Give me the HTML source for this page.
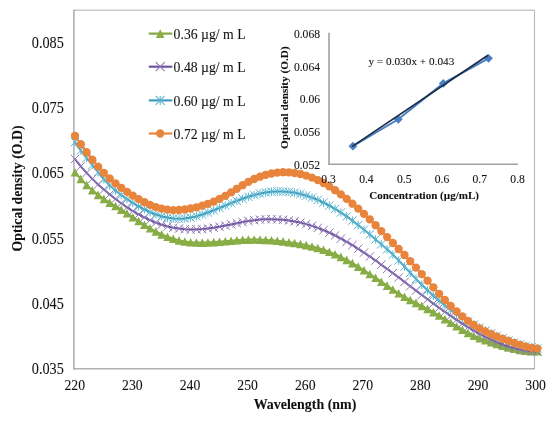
<!DOCTYPE html><html><head><meta charset="utf-8"><title>chart</title><style>
html,body{margin:0;padding:0;background:#fff;width:550px;height:422px;overflow:hidden}
svg{display:block;filter:blur(0.3px)}text{font-family:"Liberation Serif",serif;fill:#111;stroke:#111;stroke-width:0.08px}
</style></head><body>
<svg width="550" height="422" viewBox="0 0 550 422">
<rect width="550" height="422" fill="#fff"/>
<line x1="73.9" y1="10.2" x2="534.5" y2="10.2" stroke="#c9c9c9" stroke-width="1.4"/>
<line x1="534.5" y1="10.2" x2="534.5" y2="368.7" stroke="#b9b9b9" stroke-width="1.1"/>
<line x1="73.9" y1="9.5" x2="73.9" y2="369.5" stroke="#b0b0b0" stroke-width="1.6"/>
<line x1="73" y1="368.7" x2="535" y2="368.7" stroke="#b0b0b0" stroke-width="1.6"/>
<text x="63.8" y="47.7" font-size="15.8" text-anchor="end" textLength="32" lengthAdjust="spacingAndGlyphs">0.085</text>
<text x="63.8" y="113.0" font-size="15.8" text-anchor="end" textLength="32" lengthAdjust="spacingAndGlyphs">0.075</text>
<text x="63.8" y="178.3" font-size="15.8" text-anchor="end" textLength="32" lengthAdjust="spacingAndGlyphs">0.065</text>
<text x="63.8" y="243.6" font-size="15.8" text-anchor="end" textLength="32" lengthAdjust="spacingAndGlyphs">0.055</text>
<text x="63.8" y="308.9" font-size="15.8" text-anchor="end" textLength="32" lengthAdjust="spacingAndGlyphs">0.045</text>
<text x="63.8" y="374.2" font-size="15.8" text-anchor="end" textLength="32" lengthAdjust="spacingAndGlyphs">0.035</text>
<text x="74.8" y="389.6" font-size="15.6" text-anchor="middle" textLength="20.6" lengthAdjust="spacingAndGlyphs">220</text>
<text x="132.4" y="389.6" font-size="15.6" text-anchor="middle" textLength="20.6" lengthAdjust="spacingAndGlyphs">230</text>
<text x="190.0" y="389.6" font-size="15.6" text-anchor="middle" textLength="20.6" lengthAdjust="spacingAndGlyphs">240</text>
<text x="247.6" y="389.6" font-size="15.6" text-anchor="middle" textLength="20.6" lengthAdjust="spacingAndGlyphs">250</text>
<text x="305.2" y="389.6" font-size="15.6" text-anchor="middle" textLength="20.6" lengthAdjust="spacingAndGlyphs">260</text>
<text x="362.8" y="389.6" font-size="15.6" text-anchor="middle" textLength="20.6" lengthAdjust="spacingAndGlyphs">270</text>
<text x="420.4" y="389.6" font-size="15.6" text-anchor="middle" textLength="20.6" lengthAdjust="spacingAndGlyphs">280</text>
<text x="478.0" y="389.6" font-size="15.6" text-anchor="middle" textLength="20.6" lengthAdjust="spacingAndGlyphs">290</text>
<text x="535.6" y="389.6" font-size="15.6" text-anchor="middle" textLength="20.6" lengthAdjust="spacingAndGlyphs">300</text>
<text transform="translate(22,251.5) rotate(-90)" font-size="13.8" font-weight="bold" textLength="126" lengthAdjust="spacingAndGlyphs">Optical density (O.D)</text>
<svg x="0" y="0" width="550" height="410.6" overflow="hidden"><text x="253.7" y="408.9" font-size="13.8" font-weight="bold" textLength="102.6" lengthAdjust="spacingAndGlyphs">Wavelength (nm)</text></svg>
<line x1="329" y1="32.8" x2="329" y2="164.3" stroke="#9a9a9a" stroke-width="1.5"/>
<line x1="328.2" y1="164.3" x2="518" y2="164.3" stroke="#a2a2a2" stroke-width="1.5"/>
<polyline points="75.0,172.3 80.8,178.9 86.6,184.9 92.3,190.2 98.1,194.9 103.9,198.9 109.7,202.6 115.5,206.0 121.2,209.6 127.0,213.3 132.8,217.2 138.6,221.0 144.4,224.8 150.1,228.3 155.9,231.5 161.7,234.4 167.5,236.8 173.3,238.8 179.0,240.4 184.8,241.5 190.6,242.2 196.4,242.5 202.2,242.6 207.9,242.5 213.7,242.1 219.5,241.7 225.3,241.2 231.1,240.7 236.8,240.2 242.6,239.8 248.4,239.6 254.2,239.5 260.0,239.6 265.7,239.9 271.5,240.3 277.3,240.8 283.1,241.4 288.9,242.2 294.6,243.0 300.4,244.0 306.2,245.1 312.0,246.5 317.8,248.0 323.5,249.8 329.3,251.8 335.1,254.2 340.9,256.9 346.7,259.9 352.4,263.1 358.2,266.6 364.0,270.3 369.8,274.0 375.6,277.8 381.3,281.7 387.1,285.6 392.9,289.5 398.7,293.3 404.5,296.8 410.2,300.0 416.0,302.9 421.8,305.9 427.6,308.9 433.4,312.2 439.1,315.5 444.9,319.1 450.7,322.7 456.5,326.2 462.3,329.7 468.0,332.9 473.8,335.7 479.6,338.1 485.4,340.2 491.2,342.2 496.9,344.0 502.7,345.8 508.5,347.4 514.3,348.8 520.1,350.0 525.8,350.7 531.6,351.1 537.4,351.1" fill="none" stroke="#82A943" stroke-width="2" stroke-linejoin="round"/>
<path d="M75.0,168.0L79.3,176.6L70.7,176.6ZM80.8,174.6L85.1,183.2L76.5,183.2ZM86.6,180.6L90.9,189.2L82.3,189.2ZM92.3,185.9L96.6,194.5L88.0,194.5ZM98.1,190.6L102.4,199.2L93.8,199.2ZM103.9,194.6L108.2,203.2L99.6,203.2ZM109.7,198.3L114.0,206.9L105.4,206.9ZM115.5,201.7L119.8,210.3L111.2,210.3ZM121.2,205.3L125.5,213.9L116.9,213.9ZM127.0,209.0L131.3,217.6L122.7,217.6ZM132.8,212.9L137.1,221.5L128.5,221.5ZM138.6,216.7L142.9,225.3L134.3,225.3ZM144.4,220.5L148.7,229.1L140.1,229.1ZM150.1,224.0L154.4,232.6L145.8,232.6ZM155.9,227.2L160.2,235.8L151.6,235.8ZM161.7,230.1L166.0,238.7L157.4,238.7ZM167.5,232.5L171.8,241.1L163.2,241.1ZM173.3,234.5L177.6,243.1L169.0,243.1ZM179.0,236.1L183.3,244.7L174.7,244.7ZM184.8,237.2L189.1,245.8L180.5,245.8ZM190.6,237.9L194.9,246.5L186.3,246.5ZM196.4,238.2L200.7,246.8L192.1,246.8ZM202.2,238.3L206.5,246.9L197.9,246.9ZM207.9,238.2L212.2,246.8L203.6,246.8ZM213.7,237.8L218.0,246.4L209.4,246.4ZM219.5,237.4L223.8,246.0L215.2,246.0ZM225.3,236.9L229.6,245.5L221.0,245.5ZM231.1,236.4L235.4,245.0L226.8,245.0ZM236.8,235.9L241.1,244.5L232.5,244.5ZM242.6,235.5L246.9,244.1L238.3,244.1ZM248.4,235.3L252.7,243.9L244.1,243.9ZM254.2,235.2L258.5,243.8L249.9,243.8ZM260.0,235.3L264.3,243.9L255.7,243.9ZM265.7,235.6L270.0,244.2L261.4,244.2ZM271.5,236.0L275.8,244.6L267.2,244.6ZM277.3,236.5L281.6,245.1L273.0,245.1ZM283.1,237.1L287.4,245.7L278.8,245.7ZM288.9,237.9L293.2,246.5L284.6,246.5ZM294.6,238.7L298.9,247.3L290.3,247.3ZM300.4,239.7L304.7,248.3L296.1,248.3ZM306.2,240.8L310.5,249.4L301.9,249.4ZM312.0,242.2L316.3,250.8L307.7,250.8ZM317.8,243.7L322.1,252.3L313.5,252.3ZM323.5,245.5L327.8,254.1L319.2,254.1ZM329.3,247.5L333.6,256.1L325.0,256.1ZM335.1,249.9L339.4,258.5L330.8,258.5ZM340.9,252.6L345.2,261.2L336.6,261.2ZM346.7,255.6L351.0,264.2L342.4,264.2ZM352.4,258.8L356.7,267.4L348.1,267.4ZM358.2,262.3L362.5,270.9L353.9,270.9ZM364.0,266.0L368.3,274.6L359.7,274.6ZM369.8,269.7L374.1,278.3L365.5,278.3ZM375.6,273.5L379.9,282.1L371.3,282.1ZM381.3,277.4L385.6,286.0L377.0,286.0ZM387.1,281.3L391.4,289.9L382.8,289.9ZM392.9,285.2L397.2,293.8L388.6,293.8ZM398.7,289.0L403.0,297.6L394.4,297.6ZM404.5,292.5L408.8,301.1L400.2,301.1ZM410.2,295.7L414.5,304.3L405.9,304.3ZM416.0,298.6L420.3,307.2L411.7,307.2ZM421.8,301.6L426.1,310.2L417.5,310.2ZM427.6,304.6L431.9,313.2L423.3,313.2ZM433.4,307.9L437.7,316.5L429.1,316.5ZM439.1,311.2L443.4,319.8L434.8,319.8ZM444.9,314.8L449.2,323.4L440.6,323.4ZM450.7,318.4L455.0,327.0L446.4,327.0ZM456.5,321.9L460.8,330.5L452.2,330.5ZM462.3,325.4L466.6,334.0L458.0,334.0ZM468.0,328.6L472.3,337.2L463.7,337.2ZM473.8,331.4L478.1,340.0L469.5,340.0ZM479.6,333.8L483.9,342.4L475.3,342.4ZM485.4,335.9L489.7,344.5L481.1,344.5ZM491.2,337.9L495.5,346.5L486.9,346.5ZM496.9,339.7L501.2,348.3L492.6,348.3ZM502.7,341.5L507.0,350.1L498.4,350.1ZM508.5,343.1L512.8,351.7L504.2,351.7ZM514.3,344.5L518.6,353.1L510.0,353.1ZM520.1,345.7L524.4,354.3L515.8,354.3ZM525.8,346.4L530.1,355.0L521.5,355.0ZM531.6,346.8L535.9,355.4L527.3,355.4ZM537.4,346.8L541.7,355.4L533.1,355.4Z" fill="#87AD44"/>
<polyline points="75.0,159.0 80.8,166.3 86.6,172.9 92.3,178.9 98.1,184.5 103.9,189.6 109.7,194.4 115.5,199.0 121.2,203.3 127.0,207.3 132.8,211.0 138.6,214.4 144.4,217.4 150.1,220.2 155.9,222.6 161.7,224.7 167.5,226.4 173.3,227.7 179.0,228.6 184.8,229.2 190.6,229.5 196.4,229.4 202.2,229.1 207.9,228.5 213.7,227.7 219.5,226.7 225.3,225.6 231.1,224.4 236.8,223.2 242.6,222.0 248.4,221.0 254.2,220.2 260.0,219.6 265.7,219.3 271.5,219.2 277.3,219.4 283.1,219.8 288.9,220.5 294.6,221.4 300.4,222.6 306.2,224.1 312.0,225.9 317.8,227.9 323.5,230.2 329.3,232.7 335.1,235.5 340.9,238.6 346.7,241.8 352.4,245.2 358.2,248.8 364.0,252.6 369.8,256.5 375.6,260.5 381.3,264.7 387.1,268.9 392.9,273.1 398.7,277.5 404.5,281.9 410.2,286.2 416.0,290.6 421.8,295.0 427.6,299.3 433.4,303.6 439.1,307.8 444.9,311.9 450.7,315.9 456.5,319.8 462.3,323.6 468.0,327.2 473.8,330.6 479.6,333.8 485.4,336.8 491.2,339.6 496.9,342.2 502.7,344.4 508.5,346.4 514.3,348.1 520.1,349.5 525.8,350.6 531.6,351.3 537.4,351.6" fill="none" stroke="#6F53A0" stroke-width="2" stroke-linejoin="round"/>
<path d="M70.8,154.8L79.2,163.2M70.8,163.2L79.2,154.8M76.6,162.1L85.0,170.5M76.6,170.5L85.0,162.1M82.4,168.7L90.8,177.1M82.4,177.1L90.8,168.7M88.1,174.7L96.5,183.1M88.1,183.1L96.5,174.7M93.9,180.3L102.3,188.7M93.9,188.7L102.3,180.3M99.7,185.4L108.1,193.8M99.7,193.8L108.1,185.4M105.5,190.2L113.9,198.6M105.5,198.6L113.9,190.2M111.3,194.8L119.7,203.2M111.3,203.2L119.7,194.8M117.0,199.1L125.4,207.5M117.0,207.5L125.4,199.1M122.8,203.1L131.2,211.5M122.8,211.5L131.2,203.1M128.6,206.8L137.0,215.2M128.6,215.2L137.0,206.8M134.4,210.2L142.8,218.6M134.4,218.6L142.8,210.2M140.2,213.2L148.6,221.6M140.2,221.6L148.6,213.2M145.9,216.0L154.3,224.4M145.9,224.4L154.3,216.0M151.7,218.4L160.1,226.8M151.7,226.8L160.1,218.4M157.5,220.5L165.9,228.9M157.5,228.9L165.9,220.5M163.3,222.2L171.7,230.6M163.3,230.6L171.7,222.2M169.1,223.5L177.5,231.9M169.1,231.9L177.5,223.5M174.8,224.4L183.2,232.8M174.8,232.8L183.2,224.4M180.6,225.0L189.0,233.4M180.6,233.4L189.0,225.0M186.4,225.3L194.8,233.7M186.4,233.7L194.8,225.3M192.2,225.2L200.6,233.6M192.2,233.6L200.6,225.2M198.0,224.9L206.4,233.3M198.0,233.3L206.4,224.9M203.7,224.3L212.1,232.7M203.7,232.7L212.1,224.3M209.5,223.5L217.9,231.9M209.5,231.9L217.9,223.5M215.3,222.5L223.7,230.9M215.3,230.9L223.7,222.5M221.1,221.4L229.5,229.8M221.1,229.8L229.5,221.4M226.9,220.2L235.3,228.6M226.9,228.6L235.3,220.2M232.6,219.0L241.0,227.4M232.6,227.4L241.0,219.0M238.4,217.8L246.8,226.2M238.4,226.2L246.8,217.8M244.2,216.8L252.6,225.2M244.2,225.2L252.6,216.8M250.0,216.0L258.4,224.4M250.0,224.4L258.4,216.0M255.8,215.4L264.2,223.8M255.8,223.8L264.2,215.4M261.5,215.1L269.9,223.5M261.5,223.5L269.9,215.1M267.3,215.0L275.7,223.4M267.3,223.4L275.7,215.0M273.1,215.2L281.5,223.6M273.1,223.6L281.5,215.2M278.9,215.6L287.3,224.0M278.9,224.0L287.3,215.6M284.7,216.3L293.1,224.7M284.7,224.7L293.1,216.3M290.4,217.2L298.8,225.6M290.4,225.6L298.8,217.2M296.2,218.4L304.6,226.8M296.2,226.8L304.6,218.4M302.0,219.9L310.4,228.3M302.0,228.3L310.4,219.9M307.8,221.7L316.2,230.1M307.8,230.1L316.2,221.7M313.6,223.7L322.0,232.1M313.6,232.1L322.0,223.7M319.3,226.0L327.7,234.4M319.3,234.4L327.7,226.0M325.1,228.5L333.5,236.9M325.1,236.9L333.5,228.5M330.9,231.3L339.3,239.7M330.9,239.7L339.3,231.3M336.7,234.4L345.1,242.8M336.7,242.8L345.1,234.4M342.5,237.6L350.9,246.0M342.5,246.0L350.9,237.6M348.2,241.0L356.6,249.4M348.2,249.4L356.6,241.0M354.0,244.6L362.4,253.0M354.0,253.0L362.4,244.6M359.8,248.4L368.2,256.8M359.8,256.8L368.2,248.4M365.6,252.3L374.0,260.7M365.6,260.7L374.0,252.3M371.4,256.3L379.8,264.7M371.4,264.7L379.8,256.3M377.1,260.5L385.5,268.9M377.1,268.9L385.5,260.5M382.9,264.7L391.3,273.1M382.9,273.1L391.3,264.7M388.7,268.9L397.1,277.3M388.7,277.3L397.1,268.9M394.5,273.3L402.9,281.7M394.5,281.7L402.9,273.3M400.3,277.7L408.7,286.1M400.3,286.1L408.7,277.7M406.0,282.0L414.4,290.4M406.0,290.4L414.4,282.0M411.8,286.4L420.2,294.8M411.8,294.8L420.2,286.4M417.6,290.8L426.0,299.2M417.6,299.2L426.0,290.8M423.4,295.1L431.8,303.5M423.4,303.5L431.8,295.1M429.2,299.4L437.6,307.8M429.2,307.8L437.6,299.4M434.9,303.6L443.3,312.0M434.9,312.0L443.3,303.6M440.7,307.7L449.1,316.1M440.7,316.1L449.1,307.7M446.5,311.7L454.9,320.1M446.5,320.1L454.9,311.7M452.3,315.6L460.7,324.0M452.3,324.0L460.7,315.6M458.1,319.4L466.5,327.8M458.1,327.8L466.5,319.4M463.8,323.0L472.2,331.4M463.8,331.4L472.2,323.0M469.6,326.4L478.0,334.8M469.6,334.8L478.0,326.4M475.4,329.6L483.8,338.0M475.4,338.0L483.8,329.6M481.2,332.6L489.6,341.0M481.2,341.0L489.6,332.6M487.0,335.4L495.4,343.8M487.0,343.8L495.4,335.4M492.7,338.0L501.1,346.4M492.7,346.4L501.1,338.0M498.5,340.2L506.9,348.6M498.5,348.6L506.9,340.2M504.3,342.2L512.7,350.6M504.3,350.6L512.7,342.2M510.1,343.9L518.5,352.3M510.1,352.3L518.5,343.9M515.9,345.3L524.3,353.7M515.9,353.7L524.3,345.3M521.6,346.4L530.0,354.8M521.6,354.8L530.0,346.4M527.4,347.1L535.8,355.5M527.4,355.5L535.8,347.1M533.2,347.4L541.6,355.8M533.2,355.8L541.6,347.4" stroke="#8C79B4" stroke-width="1" fill="none"/>
<polyline points="75.0,142.0 80.8,150.6 86.6,158.0 92.3,165.0 98.1,172.2 103.9,179.4 109.7,185.6 115.5,190.6 121.2,195.0 127.0,199.1 132.8,202.9 138.6,206.4 144.4,209.5 150.1,212.2 155.9,214.5 161.7,216.3 167.5,217.7 173.3,218.5 179.0,218.7 184.8,218.4 190.6,217.6 196.4,216.2 202.2,214.5 207.9,212.5 213.7,210.3 219.5,208.0 225.3,205.6 231.1,203.2 236.8,200.9 242.6,198.7 248.4,196.8 254.2,195.0 260.0,193.6 265.7,192.4 271.5,191.7 277.3,191.4 283.1,191.5 288.9,191.9 294.6,192.8 300.4,194.0 306.2,195.6 312.0,197.6 317.8,199.9 323.5,202.6 329.3,205.6 335.1,208.9 340.9,212.5 346.7,216.4 352.4,220.6 358.2,225.1 364.0,229.7 369.8,234.5 375.6,239.4 381.3,244.3 387.1,249.3 392.9,254.6 398.7,260.4 404.5,266.6 410.2,272.8 416.0,278.9 421.8,284.7 427.6,290.3 433.4,295.7 439.1,300.8 444.9,305.6 450.7,310.0 456.5,314.1 462.3,317.9 468.0,321.4 473.8,324.6 479.6,327.7 485.4,330.6 491.2,333.3 496.9,335.8 502.7,338.2 508.5,340.5 514.3,342.6 520.1,344.4 525.8,346.0 531.6,347.2 537.4,348.2" fill="none" stroke="#3E9BBA" stroke-width="2" stroke-linejoin="round"/>
<path d="M70.8,137.8L79.2,146.2M70.8,146.2L79.2,137.8M75.0,137.8L75.0,146.2M76.6,146.4L85.0,154.8M76.6,154.8L85.0,146.4M80.8,146.4L80.8,154.8M82.4,153.8L90.8,162.2M82.4,162.2L90.8,153.8M86.6,153.8L86.6,162.2M88.1,160.8L96.5,169.2M88.1,169.2L96.5,160.8M92.3,160.8L92.3,169.2M93.9,168.0L102.3,176.4M93.9,176.4L102.3,168.0M98.1,168.0L98.1,176.4M99.7,175.2L108.1,183.6M99.7,183.6L108.1,175.2M103.9,175.2L103.9,183.6M105.5,181.4L113.9,189.8M105.5,189.8L113.9,181.4M109.7,181.4L109.7,189.8M111.3,186.4L119.7,194.8M111.3,194.8L119.7,186.4M115.5,186.4L115.5,194.8M117.0,190.8L125.4,199.2M117.0,199.2L125.4,190.8M121.2,190.8L121.2,199.2M122.8,194.9L131.2,203.3M122.8,203.3L131.2,194.9M127.0,194.9L127.0,203.3M128.6,198.7L137.0,207.1M128.6,207.1L137.0,198.7M132.8,198.7L132.8,207.1M134.4,202.2L142.8,210.6M134.4,210.6L142.8,202.2M138.6,202.2L138.6,210.6M140.2,205.3L148.6,213.7M140.2,213.7L148.6,205.3M144.4,205.3L144.4,213.7M145.9,208.0L154.3,216.4M145.9,216.4L154.3,208.0M150.1,208.0L150.1,216.4M151.7,210.3L160.1,218.7M151.7,218.7L160.1,210.3M155.9,210.3L155.9,218.7M157.5,212.1L165.9,220.5M157.5,220.5L165.9,212.1M161.7,212.1L161.7,220.5M163.3,213.5L171.7,221.9M163.3,221.9L171.7,213.5M167.5,213.5L167.5,221.9M169.1,214.3L177.5,222.7M169.1,222.7L177.5,214.3M173.3,214.3L173.3,222.7M174.8,214.5L183.2,222.9M174.8,222.9L183.2,214.5M179.0,214.5L179.0,222.9M180.6,214.2L189.0,222.6M180.6,222.6L189.0,214.2M184.8,214.2L184.8,222.6M186.4,213.4L194.8,221.8M186.4,221.8L194.8,213.4M190.6,213.4L190.6,221.8M192.2,212.0L200.6,220.4M192.2,220.4L200.6,212.0M196.4,212.0L196.4,220.4M198.0,210.3L206.4,218.7M198.0,218.7L206.4,210.3M202.2,210.3L202.2,218.7M203.7,208.3L212.1,216.7M203.7,216.7L212.1,208.3M207.9,208.3L207.9,216.7M209.5,206.1L217.9,214.5M209.5,214.5L217.9,206.1M213.7,206.1L213.7,214.5M215.3,203.8L223.7,212.2M215.3,212.2L223.7,203.8M219.5,203.8L219.5,212.2M221.1,201.4L229.5,209.8M221.1,209.8L229.5,201.4M225.3,201.4L225.3,209.8M226.9,199.0L235.3,207.4M226.9,207.4L235.3,199.0M231.1,199.0L231.1,207.4M232.6,196.7L241.0,205.1M232.6,205.1L241.0,196.7M236.8,196.7L236.8,205.1M238.4,194.5L246.8,202.9M238.4,202.9L246.8,194.5M242.6,194.5L242.6,202.9M244.2,192.6L252.6,201.0M244.2,201.0L252.6,192.6M248.4,192.6L248.4,201.0M250.0,190.8L258.4,199.2M250.0,199.2L258.4,190.8M254.2,190.8L254.2,199.2M255.8,189.4L264.2,197.8M255.8,197.8L264.2,189.4M260.0,189.4L260.0,197.8M261.5,188.2L269.9,196.6M261.5,196.6L269.9,188.2M265.7,188.2L265.7,196.6M267.3,187.5L275.7,195.9M267.3,195.9L275.7,187.5M271.5,187.5L271.5,195.9M273.1,187.2L281.5,195.6M273.1,195.6L281.5,187.2M277.3,187.2L277.3,195.6M278.9,187.3L287.3,195.7M278.9,195.7L287.3,187.3M283.1,187.3L283.1,195.7M284.7,187.7L293.1,196.1M284.7,196.1L293.1,187.7M288.9,187.7L288.9,196.1M290.4,188.6L298.8,197.0M290.4,197.0L298.8,188.6M294.6,188.6L294.6,197.0M296.2,189.8L304.6,198.2M296.2,198.2L304.6,189.8M300.4,189.8L300.4,198.2M302.0,191.4L310.4,199.8M302.0,199.8L310.4,191.4M306.2,191.4L306.2,199.8M307.8,193.4L316.2,201.8M307.8,201.8L316.2,193.4M312.0,193.4L312.0,201.8M313.6,195.7L322.0,204.1M313.6,204.1L322.0,195.7M317.8,195.7L317.8,204.1M319.3,198.4L327.7,206.8M319.3,206.8L327.7,198.4M323.5,198.4L323.5,206.8M325.1,201.4L333.5,209.8M325.1,209.8L333.5,201.4M329.3,201.4L329.3,209.8M330.9,204.7L339.3,213.1M330.9,213.1L339.3,204.7M335.1,204.7L335.1,213.1M336.7,208.3L345.1,216.7M336.7,216.7L345.1,208.3M340.9,208.3L340.9,216.7M342.5,212.2L350.9,220.6M342.5,220.6L350.9,212.2M346.7,212.2L346.7,220.6M348.2,216.4L356.6,224.8M348.2,224.8L356.6,216.4M352.4,216.4L352.4,224.8M354.0,220.9L362.4,229.3M354.0,229.3L362.4,220.9M358.2,220.9L358.2,229.3M359.8,225.5L368.2,233.9M359.8,233.9L368.2,225.5M364.0,225.5L364.0,233.9M365.6,230.3L374.0,238.7M365.6,238.7L374.0,230.3M369.8,230.3L369.8,238.7M371.4,235.2L379.8,243.6M371.4,243.6L379.8,235.2M375.6,235.2L375.6,243.6M377.1,240.1L385.5,248.5M377.1,248.5L385.5,240.1M381.3,240.1L381.3,248.5M382.9,245.1L391.3,253.5M382.9,253.5L391.3,245.1M387.1,245.1L387.1,253.5M388.7,250.4L397.1,258.8M388.7,258.8L397.1,250.4M392.9,250.4L392.9,258.8M394.5,256.2L402.9,264.6M394.5,264.6L402.9,256.2M398.7,256.2L398.7,264.6M400.3,262.4L408.7,270.8M400.3,270.8L408.7,262.4M404.5,262.4L404.5,270.8M406.0,268.6L414.4,277.0M406.0,277.0L414.4,268.6M410.2,268.6L410.2,277.0M411.8,274.7L420.2,283.1M411.8,283.1L420.2,274.7M416.0,274.7L416.0,283.1M417.6,280.5L426.0,288.9M417.6,288.9L426.0,280.5M421.8,280.5L421.8,288.9M423.4,286.1L431.8,294.5M423.4,294.5L431.8,286.1M427.6,286.1L427.6,294.5M429.2,291.5L437.6,299.9M429.2,299.9L437.6,291.5M433.4,291.5L433.4,299.9M434.9,296.6L443.3,305.0M434.9,305.0L443.3,296.6M439.1,296.6L439.1,305.0M440.7,301.4L449.1,309.8M440.7,309.8L449.1,301.4M444.9,301.4L444.9,309.8M446.5,305.8L454.9,314.2M446.5,314.2L454.9,305.8M450.7,305.8L450.7,314.2M452.3,309.9L460.7,318.3M452.3,318.3L460.7,309.9M456.5,309.9L456.5,318.3M458.1,313.7L466.5,322.1M458.1,322.1L466.5,313.7M462.3,313.7L462.3,322.1M463.8,317.2L472.2,325.6M463.8,325.6L472.2,317.2M468.0,317.2L468.0,325.6M469.6,320.4L478.0,328.8M469.6,328.8L478.0,320.4M473.8,320.4L473.8,328.8M475.4,323.5L483.8,331.9M475.4,331.9L483.8,323.5M479.6,323.5L479.6,331.9M481.2,326.4L489.6,334.8M481.2,334.8L489.6,326.4M485.4,326.4L485.4,334.8M487.0,329.1L495.4,337.5M487.0,337.5L495.4,329.1M491.2,329.1L491.2,337.5M492.7,331.6L501.1,340.0M492.7,340.0L501.1,331.6M496.9,331.6L496.9,340.0M498.5,334.0L506.9,342.4M498.5,342.4L506.9,334.0M502.7,334.0L502.7,342.4M504.3,336.3L512.7,344.7M504.3,344.7L512.7,336.3M508.5,336.3L508.5,344.7M510.1,338.4L518.5,346.8M510.1,346.8L518.5,338.4M514.3,338.4L514.3,346.8M515.9,340.2L524.3,348.6M515.9,348.6L524.3,340.2M520.1,340.2L520.1,348.6M521.6,341.8L530.0,350.2M521.6,350.2L530.0,341.8M525.8,341.8L525.8,350.2M527.4,343.0L535.8,351.4M527.4,351.4L535.8,343.0M531.6,343.0L531.6,351.4M533.2,344.0L541.6,352.4M533.2,352.4L541.6,344.0M537.4,344.0L537.4,352.4" stroke="#5AB6D0" stroke-width="1" fill="none"/>
<polyline points="75.0,135.8 80.8,144.2 86.6,152.2 92.3,159.7 98.1,166.6 103.9,172.9 109.7,178.5 115.5,183.4 121.2,187.8 127.0,191.8 132.8,195.6 138.6,199.1 144.4,202.2 150.1,204.9 155.9,207.1 161.7,208.6 167.5,209.6 173.3,210.1 179.0,210.0 184.8,209.5 190.6,208.5 196.4,207.3 202.2,205.7 207.9,203.8 213.7,201.6 219.5,198.9 225.3,195.9 231.1,192.4 236.8,188.8 242.6,185.2 248.4,181.9 254.2,179.0 260.0,176.7 265.7,174.8 271.5,173.5 277.3,172.6 283.1,172.2 288.9,172.4 294.6,173.0 300.4,174.0 306.2,175.6 312.0,177.6 317.8,180.1 323.5,183.0 329.3,186.4 335.1,190.2 340.9,194.4 346.7,198.9 352.4,203.7 358.2,208.6 364.0,213.9 369.8,219.4 375.6,225.2 381.3,231.1 387.1,237.1 392.9,243.0 398.7,249.0 404.5,255.0 410.2,261.2 416.0,267.6 421.8,274.1 427.6,280.7 433.4,287.3 439.1,293.8 444.9,300.0 450.7,305.9 456.5,311.3 462.3,316.4 468.0,320.9 473.8,324.9 479.6,328.4 485.4,331.5 491.2,334.2 496.9,336.6 502.7,338.8 508.5,340.9 514.3,342.9 520.1,344.8 525.8,346.6 531.6,347.9 537.4,348.6" fill="none" stroke="#E8843C" stroke-width="2" stroke-linejoin="round"/>
<circle cx="75.0" cy="135.8" r="4.15" fill="#E8843C"/>
<circle cx="80.8" cy="144.2" r="4.15" fill="#E8843C"/>
<circle cx="86.6" cy="152.2" r="4.15" fill="#E8843C"/>
<circle cx="92.3" cy="159.7" r="4.15" fill="#E8843C"/>
<circle cx="98.1" cy="166.6" r="4.15" fill="#E8843C"/>
<circle cx="103.9" cy="172.9" r="4.15" fill="#E8843C"/>
<circle cx="109.7" cy="178.5" r="4.15" fill="#E8843C"/>
<circle cx="115.5" cy="183.4" r="4.15" fill="#E8843C"/>
<circle cx="121.2" cy="187.8" r="4.15" fill="#E8843C"/>
<circle cx="127.0" cy="191.8" r="4.15" fill="#E8843C"/>
<circle cx="132.8" cy="195.6" r="4.15" fill="#E8843C"/>
<circle cx="138.6" cy="199.1" r="4.15" fill="#E8843C"/>
<circle cx="144.4" cy="202.2" r="4.15" fill="#E8843C"/>
<circle cx="150.1" cy="204.9" r="4.15" fill="#E8843C"/>
<circle cx="155.9" cy="207.1" r="4.15" fill="#E8843C"/>
<circle cx="161.7" cy="208.6" r="4.15" fill="#E8843C"/>
<circle cx="167.5" cy="209.6" r="4.15" fill="#E8843C"/>
<circle cx="173.3" cy="210.1" r="4.15" fill="#E8843C"/>
<circle cx="179.0" cy="210.0" r="4.15" fill="#E8843C"/>
<circle cx="184.8" cy="209.5" r="4.15" fill="#E8843C"/>
<circle cx="190.6" cy="208.5" r="4.15" fill="#E8843C"/>
<circle cx="196.4" cy="207.3" r="4.15" fill="#E8843C"/>
<circle cx="202.2" cy="205.7" r="4.15" fill="#E8843C"/>
<circle cx="207.9" cy="203.8" r="4.15" fill="#E8843C"/>
<circle cx="213.7" cy="201.6" r="4.15" fill="#E8843C"/>
<circle cx="219.5" cy="198.9" r="4.15" fill="#E8843C"/>
<circle cx="225.3" cy="195.9" r="4.15" fill="#E8843C"/>
<circle cx="231.1" cy="192.4" r="4.15" fill="#E8843C"/>
<circle cx="236.8" cy="188.8" r="4.15" fill="#E8843C"/>
<circle cx="242.6" cy="185.2" r="4.15" fill="#E8843C"/>
<circle cx="248.4" cy="181.9" r="4.15" fill="#E8843C"/>
<circle cx="254.2" cy="179.0" r="4.15" fill="#E8843C"/>
<circle cx="260.0" cy="176.7" r="4.15" fill="#E8843C"/>
<circle cx="265.7" cy="174.8" r="4.15" fill="#E8843C"/>
<circle cx="271.5" cy="173.5" r="4.15" fill="#E8843C"/>
<circle cx="277.3" cy="172.6" r="4.15" fill="#E8843C"/>
<circle cx="283.1" cy="172.2" r="4.15" fill="#E8843C"/>
<circle cx="288.9" cy="172.4" r="4.15" fill="#E8843C"/>
<circle cx="294.6" cy="173.0" r="4.15" fill="#E8843C"/>
<circle cx="300.4" cy="174.0" r="4.15" fill="#E8843C"/>
<circle cx="306.2" cy="175.6" r="4.15" fill="#E8843C"/>
<circle cx="312.0" cy="177.6" r="4.15" fill="#E8843C"/>
<circle cx="317.8" cy="180.1" r="4.15" fill="#E8843C"/>
<circle cx="323.5" cy="183.0" r="4.15" fill="#E8843C"/>
<circle cx="329.3" cy="186.4" r="4.15" fill="#E8843C"/>
<circle cx="335.1" cy="190.2" r="4.15" fill="#E8843C"/>
<circle cx="340.9" cy="194.4" r="4.15" fill="#E8843C"/>
<circle cx="346.7" cy="198.9" r="4.15" fill="#E8843C"/>
<circle cx="352.4" cy="203.7" r="4.15" fill="#E8843C"/>
<circle cx="358.2" cy="208.6" r="4.15" fill="#E8843C"/>
<circle cx="364.0" cy="213.9" r="4.15" fill="#E8843C"/>
<circle cx="369.8" cy="219.4" r="4.15" fill="#E8843C"/>
<circle cx="375.6" cy="225.2" r="4.15" fill="#E8843C"/>
<circle cx="381.3" cy="231.1" r="4.15" fill="#E8843C"/>
<circle cx="387.1" cy="237.1" r="4.15" fill="#E8843C"/>
<circle cx="392.9" cy="243.0" r="4.15" fill="#E8843C"/>
<circle cx="398.7" cy="249.0" r="4.15" fill="#E8843C"/>
<circle cx="404.5" cy="255.0" r="4.15" fill="#E8843C"/>
<circle cx="410.2" cy="261.2" r="4.15" fill="#E8843C"/>
<circle cx="416.0" cy="267.6" r="4.15" fill="#E8843C"/>
<circle cx="421.8" cy="274.1" r="4.15" fill="#E8843C"/>
<circle cx="427.6" cy="280.7" r="4.15" fill="#E8843C"/>
<circle cx="433.4" cy="287.3" r="4.15" fill="#E8843C"/>
<circle cx="439.1" cy="293.8" r="4.15" fill="#E8843C"/>
<circle cx="444.9" cy="300.0" r="4.15" fill="#E8843C"/>
<circle cx="450.7" cy="305.9" r="4.15" fill="#E8843C"/>
<circle cx="456.5" cy="311.3" r="4.15" fill="#E8843C"/>
<circle cx="462.3" cy="316.4" r="4.15" fill="#E8843C"/>
<circle cx="468.0" cy="320.9" r="4.15" fill="#E8843C"/>
<circle cx="473.8" cy="324.9" r="4.15" fill="#E8843C"/>
<circle cx="479.6" cy="328.4" r="4.15" fill="#E8843C"/>
<circle cx="485.4" cy="331.5" r="4.15" fill="#E8843C"/>
<circle cx="491.2" cy="334.2" r="4.15" fill="#E8843C"/>
<circle cx="496.9" cy="336.6" r="4.15" fill="#E8843C"/>
<circle cx="502.7" cy="338.8" r="4.15" fill="#E8843C"/>
<circle cx="508.5" cy="340.9" r="4.15" fill="#E8843C"/>
<circle cx="514.3" cy="342.9" r="4.15" fill="#E8843C"/>
<circle cx="520.1" cy="344.8" r="4.15" fill="#E8843C"/>
<circle cx="525.8" cy="346.6" r="4.15" fill="#E8843C"/>
<circle cx="531.6" cy="347.9" r="4.15" fill="#E8843C"/>
<circle cx="537.4" cy="348.6" r="4.15" fill="#E8843C"/>
<text x="320" y="37.6" font-size="11.6" text-anchor="end">0.068</text>
<text x="320" y="70.5" font-size="11.6" text-anchor="end">0.064</text>
<text x="320" y="103.4" font-size="11.6" text-anchor="end">0.06</text>
<text x="320" y="136.3" font-size="11.6" text-anchor="end">0.056</text>
<text x="320" y="169.2" font-size="11.6" text-anchor="end">0.052</text>
<text x="328.6" y="183.2" font-size="11.6" text-anchor="middle">0.3</text>
<text x="366.4" y="183.2" font-size="11.6" text-anchor="middle">0.4</text>
<text x="404.2" y="183.2" font-size="11.6" text-anchor="middle">0.5</text>
<text x="442.0" y="183.2" font-size="11.6" text-anchor="middle">0.6</text>
<text x="479.8" y="183.2" font-size="11.6" text-anchor="middle">0.7</text>
<text x="517.6" y="183.2" font-size="11.6" text-anchor="middle">0.8</text>
<text x="369.2" y="199.1" font-size="11" font-weight="bold" textLength="109.8" lengthAdjust="spacingAndGlyphs">Concentration (µg/mL)</text>
<text transform="translate(288.3,149) rotate(-90)" font-size="11.2" font-weight="bold" textLength="102.7" lengthAdjust="spacingAndGlyphs">Optical density (O.D)</text>
<text x="368.4" y="65" font-size="11.3" textLength="86" lengthAdjust="spacingAndGlyphs">y = 0.030x + 0.043</text>
<polyline points="352.9,146.2 398.3,119.3 443.2,83.4 488.5,58.3" fill="none" stroke="#4A7EC2" stroke-width="2"/>
<path d="M352.9,141.79999999999998L357.29999999999995,146.2L352.9,150.6L348.5,146.2Z" fill="#4A7EC2"/>
<path d="M398.3,114.89999999999999L402.7,119.3L398.3,123.7L393.90000000000003,119.3Z" fill="#4A7EC2"/>
<path d="M443.2,79.0L447.59999999999997,83.4L443.2,87.80000000000001L438.8,83.4Z" fill="#4A7EC2"/>
<path d="M488.5,53.9L492.9,58.3L488.5,62.699999999999996L484.1,58.3Z" fill="#4A7EC2"/>
<line x1="352.3" y1="146.4" x2="488" y2="55.2" stroke="#1c2c48" stroke-width="1.7"/>
<line x1="148.8" y1="33.6" x2="172.3" y2="33.6" stroke="#82A943" stroke-width="2.2"/>
<path d="M160.2,29.3L164.5,37.9L155.9,37.9Z" fill="#87AD44"/>
<text x="173.6" y="38.8" font-size="15.2" textLength="72" lengthAdjust="spacingAndGlyphs">0.36 µg/ m L</text>
<line x1="148.8" y1="66.7" x2="172.3" y2="66.7" stroke="#6F53A0" stroke-width="2.2"/>
<path d="M155.7,62.2L164.7,71.2M155.7,71.2L164.7,62.2" stroke="#8C79B4" stroke-width="1.1" fill="none"/>
<text x="173.6" y="71.9" font-size="15.2" textLength="72" lengthAdjust="spacingAndGlyphs">0.48 µg/ m L</text>
<line x1="148.8" y1="100.4" x2="172.3" y2="100.4" stroke="#3E9BBA" stroke-width="2.2"/>
<path d="M155.7,95.9L164.7,104.9M155.7,104.9L164.7,95.9M160.2,95.9L160.2,104.9" stroke="#5AB6D0" stroke-width="1.1" fill="none"/>
<text x="173.6" y="105.6" font-size="15.2" textLength="72" lengthAdjust="spacingAndGlyphs">0.60 µg/ m L</text>
<line x1="148.8" y1="133.5" x2="172.3" y2="133.5" stroke="#E8843C" stroke-width="2.2"/>
<circle cx="160.2" cy="133.5" r="4.15" fill="#E8843C"/>
<text x="173.6" y="138.7" font-size="15.2" textLength="72" lengthAdjust="spacingAndGlyphs">0.72 µg/ m L</text>
</svg></body></html>
